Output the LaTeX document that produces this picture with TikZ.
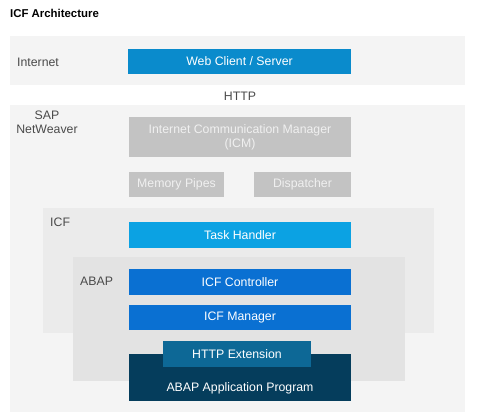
\documentclass[tikz,border=0pt]{standalone}
\usepackage{fontspec}
\setmainfont{Liberation Sans}

\definecolor{bandA}{HTML}{F4F4F4}
\definecolor{bandB}{HTML}{EBEBEB}
\definecolor{bandC}{HTML}{E3E3E3}
\definecolor{webblue}{HTML}{0A8BCC}
\definecolor{taskblue}{HTML}{0BA2E3}
\definecolor{icfblue}{HTML}{0A70D2}
\definecolor{extblue}{HTML}{0D6896}
\definecolor{appblue}{HTML}{053D5C}
\definecolor{icmgray}{HTML}{C3C3C3}
\definecolor{lblgray}{HTML}{4A4A4A}

\begin{document}
\begin{tikzpicture}[x=1pt, y=-1pt,
    blk/.style={fill=#1, text=white, inner sep=0pt, align=center,
        font=\fontsize{12.3}{14}\selectfont},
    lbl/.style={text=lblgray, inner sep=0pt, font=\fontsize{12.3}{14}\selectfont}]
    \useasboundingbox[fill=white] (0,0) rectangle (480,420);

    % 标题
    \node[anchor=west, inner sep=0pt, font=\bfseries\fontsize{11.4}{13}\selectfont] (title) at (10,13) {ICF Architecture};

    % 背景区域
    \fill[bandA] (10,36) rectangle (465,85);
    \fill[bandA] (10,105) rectangle (465,412);
    \fill[bandB] (43,208) rectangle (434,333);
    \fill[bandC] (73,257) rectangle (405,381);

    % 区域名称
    \node[lbl, anchor=west] (inet) at (17,62) {Internet};
    \node[lbl] (http) at (240,96) {HTTP};
    \node[lbl, align=center] (sapnw) at (47,122) {SAP\\NetWeaver};
    \node[lbl, anchor=west] (icf) at (50,222) {ICF};
    \node[lbl, anchor=west] (abap) at (80,281) {ABAP};

    % 各层模块
    \node[blk=webblue, minimum width=223, minimum height=25] (web) at (239.5,61.5) {Web Client / Server};
    \node[blk=icmgray, text=white!94!black, minimum width=222, minimum height=40] (icm) at (240,137) {Internet Communication Manager\\(ICM)};
    \node[blk=icmgray, text=white!94!black, minimum width=95, minimum height=25] (mem) at (176.5,184.5) {Memory Pipes};
    \node[blk=icmgray, text=white!94!black, minimum width=97, minimum height=25] (disp) at (302.5,184.5) {Dispatcher};
    \node[blk=taskblue, minimum width=222, minimum height=26] (task) at (240,235) {Task Handler};
    \node[blk=icfblue, minimum width=222, minimum height=26] (ctrl) at (240,282) {ICF Controller};
    \node[blk=icfblue, minimum width=222, minimum height=25] (mgr) at (240,317.5) {ICF Manager};
    \node[blk=appblue, minimum width=222, minimum height=47, text height=27pt, text depth=0pt] (app) at (240,377.5) {ABAP Application Program};
    \node[blk=extblue, minimum width=148, minimum height=26] (ext) at (237,354) {HTTP Extension};
\end{tikzpicture}
\end{document}
